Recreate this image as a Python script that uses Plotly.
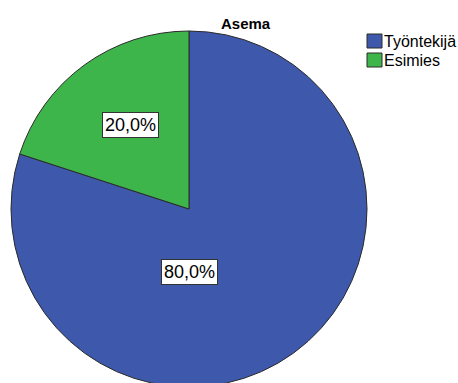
import plotly.graph_objects as go
import math

# Data
title = "Asema"
labels = ["Työntekijä", "Esimies"]
values = [80.0, 20.0]
text_labels = ["80,0%", "20,0%"]
colors = ["#3E58AC", "#3DB54A"]

W, H = 458, 400
cx_px, cy_px, r_px = 189, 209, 178

def px_x(x):
    return x / W

def px_y(y):
    return 1 - y / H

fig = go.Figure()
fig.add_trace(go.Pie(
    labels=labels,
    values=values,
    sort=False,
    direction="clockwise",
    rotation=0,
    textinfo="none",
    hoverinfo="label+percent",
    marker=dict(colors=colors, line=dict(color="#2b2b2b", width=1)),
    domain=dict(x=[px_x(cx_px - r_px), px_x(cx_px + r_px)],
                y=[px_y(cy_px + r_px), px_y(cy_px - r_px)]),
    showlegend=False,
))

# label placement (style): angle from 12 o'clock clockwise, radius fraction
label_pos = [(180, 0.355), (-34.6, 0.575)]
annotations = []
for txt, (ang, rf) in zip(text_labels, label_pos):
    a = math.radians(ang)
    x = cx_px + rf * r_px * math.sin(a)
    y = cy_px - rf * r_px * math.cos(a)
    annotations.append(dict(
        x=px_x(x), y=px_y(y), xref="paper", yref="paper",
        text=txt, showarrow=False,
        font=dict(family="Liberation Sans, Arial", size=18, color="black"),
        bgcolor="white", bordercolor="#333333", borderwidth=1, borderpad=2,
        xanchor="center", yanchor="middle",
    ))

annotations.append(dict(
    x=px_x(246), y=px_y(23), xref="paper", yref="paper",
    text="<b>" + title + "</b>", showarrow=False,
    font=dict(family="Liberation Sans, Arial", size=15, color="black"),
    xanchor="center", yanchor="middle",
))

# manual legend
shapes = []
for i, (lab, col) in enumerate(zip(labels, colors)):
    top = 34 + i * 19
    shapes.append(dict(type="rect", xref="paper", yref="paper",
                       x0=px_x(367), x1=px_x(382), y0=px_y(top + 14), y1=px_y(top),
                       fillcolor=col, line=dict(color="#2b2b2b", width=1)))
    annotations.append(dict(
        x=px_x(382), y=px_y(top + 8), xref="paper", yref="paper",
        text=lab, showarrow=False,
        font=dict(family="Liberation Sans, Arial", size=16, color="black"),
        xanchor="left", yanchor="middle",
    ))

fig.update_layout(
    width=W, height=H,
    margin=dict(l=0, r=0, t=0, b=0),
    paper_bgcolor="white", plot_bgcolor="white",
    annotations=annotations, shapes=shapes,
)

fig.write_html("out.html", post_script="document.documentElement.style.overflow='hidden';document.body.style.overflow='hidden';document.body.style.margin='0';")
